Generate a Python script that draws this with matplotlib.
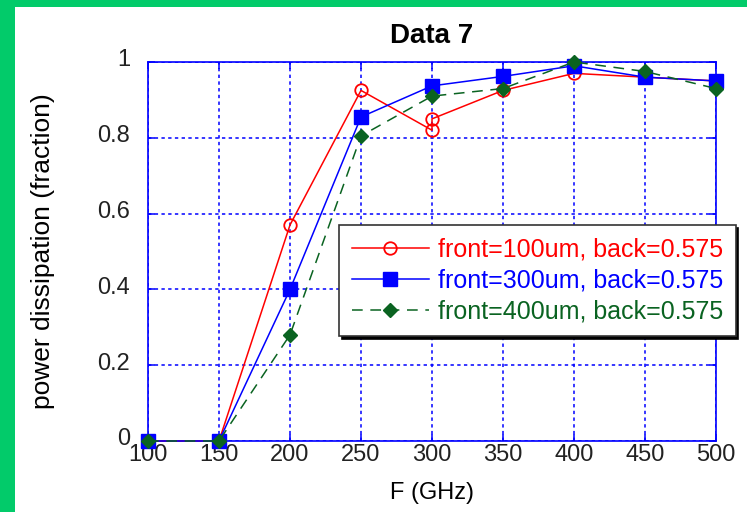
import matplotlib.pyplot as plt
from matplotlib.transforms import ScaledTranslation

plt.rcParams['font.family'] = ['Liberation Sans', 'DejaVu Sans']

freq = [100, 150, 200, 250, 300, 300, 350, 400, 450, 500]
freq_b = [100, 150, 200, 250, 300, 350, 400, 450, 500]

# power dissipation fractions for each front thickness
p_front100 = [0, 0, 0.57, 0.925, 0.82, 0.85, 0.925, 0.97, 0.96, 0.95]
p_front300 = [0, 0, 0.40, 0.855, 0.937, 0.962, 0.99, 0.96, 0.95]
p_front400 = [0, 0, 0.28, 0.805, 0.91, 0.93, 1.0, 0.975, 0.93]

labels = ["front=100um, back=0.575",
          "front=300um, back=0.575",
          "front=400um, back=0.575"]

xticks = [100, 150, 200, 250, 300, 350, 400, 450, 500]
yticks = [0, 0.2, 0.4, 0.6, 0.8, 1]
yticklabels = ["0", "0.2", "0.4", "0.6", "0.8", "1"]

red = '#ff0000'
blue = '#0000ff'
green = '#0a6321'

W, H = 747, 512
fig = plt.figure(figsize=(W / 100, H / 100), dpi=100)
fig.patch.set_facecolor('white')

# green frame on top and left edge
fig.add_artist(plt.Rectangle((0, 1 - 7 / H), 1, 7 / H, transform=fig.transFigure,
                             color='#02cb6a', lw=0, zorder=0))
fig.add_artist(plt.Rectangle((0, 0), 15 / W, 1, transform=fig.transFigure,
                             color='#02cb6a', lw=0, zorder=0))

ax = fig.add_axes([148 / W, (H - 441) / H, (716 - 148) / W, (441 - 62) / H])

l1, = ax.plot(freq, p_front100, color=red, lw=1.1, marker='o', ms=9,
              mfc='none', mec=red, mew=1.3, clip_on=False, zorder=3)
l2, = ax.plot(freq_b, p_front300, color=blue, lw=1.1, marker='s', ms=10,
              mfc=blue, mec=blue, clip_on=False, zorder=4)
l3, = ax.plot(freq_b, p_front400, color=green, lw=1.1, ls=(0, (7, 5)), marker='D',
              ms=7, mfc=green, mec=green, clip_on=False, zorder=5)

ax.set_xlim(100, 500)
ax.set_ylim(0, 1)
ax.set_xticks(xticks)
ax.set_yticks(yticks)
ax.set_yticklabels(yticklabels)

ax.grid(True, color=blue, ls=(0, (2.2, 2.2)), lw=1.1)
ax.set_axisbelow(True)
for sp in ax.spines.values():
    sp.set_color(blue)
    sp.set_linewidth(1.2)
ax.tick_params(direction='in', length=5, width=1.1, color=blue,
               top=True, right=True, labelsize=17, labelcolor='#222222')
ax.tick_params(axis='x', pad=2)
ax.tick_params(axis='y', pad=13)

# y tick labels sit a little above their tick
shift = ScaledTranslation(0, 3 / 72, fig.dpi_scale_trans)
for lab in ax.get_yticklabels():
    lab.set_transform(lab.get_transform() + shift)

ax.set_title("Data 7", fontsize=20, fontweight='bold', pad=14)
ax.set_xlabel("F (GHz)", fontsize=17, labelpad=12)
ax.set_ylabel("power dissipation (fraction)", fontsize=19)
ax.yaxis.set_label_coords((55 - 148) / (716 - 148), 0.5)

leg = ax.legend([l1, l2, l3], labels, loc='upper left',
                bbox_to_anchor=(339 / W, 1 - 225 / H), bbox_transform=fig.transFigure,
                fontsize=18, handlelength=3.1, handletextpad=0.35, borderpad=0.5,
                labelspacing=0.28, frameon=True, fancybox=False,
                shadow={'color': 'black', 'alpha': 1}, borderaxespad=0)
leg.get_frame().set_edgecolor('#333333')
leg.get_frame().set_linewidth(1.2)
for txt, c in zip(leg.get_texts(), [red, blue, green]):
    txt.set_color(c)
leg.set_zorder(10)

fig.savefig("out.png", dpi=100)
